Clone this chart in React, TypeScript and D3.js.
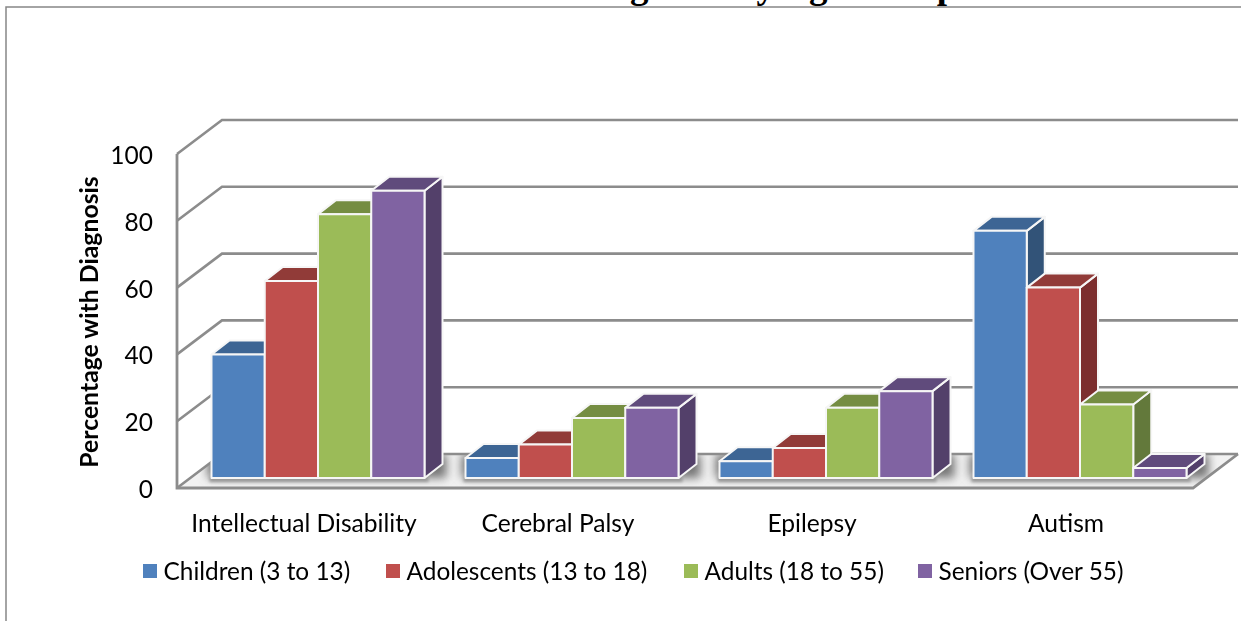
import React from 'react';
import * as d3 from 'd3';

const categories = ['Intellectual Disability', 'Cerebral Palsy', 'Epilepsy', 'Autism'];
const seriesNames = ['Children (3 to 13)', 'Adolescents (13 to 18)', 'Adults (18 to 55)', 'Seniors (Over 55)'];
const children = [37, 6, 5, 74];
const adolescents = [59, 10, 9, 57];
const adults = [79, 18, 21, 22];
const seniors = [86, 21, 26, 3];
const seriesValues = [children, adolescents, adults, seniors];
const yTicks = [0, 20, 40, 60, 80, 100];

const frontColors = ['#4F81BD', '#C0504D', '#9BBB59', '#8064A2'];
const topColors = ['#3C6594', '#913B39', '#748D42', '#604B7B'];
const sideColors = ['#325378', '#7C2F2D', '#64793A', '#523F6B'];

const GRID = '#8c8c8c';
const FONT = 'Lato, Carlito, sans-serif';

const plotLeft = 177;
const plotRight = 1193;
const wallDx = 45;
const wallDy = -34;
const barDx = 18;
const barDy = -14;
const barShiftX = 14;
const barShiftY = -10;
const groupWidth = 213;

const y = d3.scaleLinear().domain([0, 100]).range([488, 154]);
const x0 = d3.scaleBand<string>().domain(categories).range([plotLeft, plotRight]);
const x1 = d3.scaleBand<string>().domain(seriesNames).range([0, groupWidth]);
const legendX = d3.scaleOrdinal<string, number>().domain(seriesNames).range([143, 386, 684, 918]);

const poly = (pts: number[][]) => pts.map(p => p.join(',')).join(' ');

export default function App() {
  const groupPad = (x0.bandwidth() - groupWidth) / 2;
  const barBase = y(0) + barShiftY;
  return (
    <svg
      width={1241}
      height={621}
      style={{position: 'absolute', left: 0, top: 0, background: '#fff'}}
      fontFamily={FONT}
    >
      <defs>
        <filter id="soft" x="-2%" y="-2%" width="104%" height="104%">
          <feGaussianBlur stdDeviation="0.5" />
        </filter>
        <filter id="floorBlur" x="-20%" y="-100%" width="140%" height="300%">
          <feGaussianBlur stdDeviation="5" />
        </filter>
        <filter id="edgeBlur" x="-5%" y="-100%" width="110%" height="300%">
          <feGaussianBlur stdDeviation="1.4" />
        </filter>
        <clipPath id="floorClip">
          <polygon
            points={poly([
              [plotLeft, y(0)],
              [plotRight, y(0)],
              [plotRight + wallDx, y(0) + wallDy],
              [plotLeft + wallDx, y(0) + wallDy],
            ])}
          />
        </clipPath>
      </defs>

      <text
        x={766}
        y={-2}
        textAnchor="middle"
        fontFamily="'Liberation Serif', serif"
        fontWeight="bold"
        fontSize={37}
      >
        Diagnosis by Age Group
      </text>

      <g filter="url(#soft)">
        <path d="M6,621V7H1241" fill="none" stroke="#868686" strokeWidth={1.5} />

        <g clipPath="url(#floorClip)">
          <rect x={plotLeft} y={y(0) + wallDy} width={plotRight - plotLeft + wallDx} height={-wallDy} fill="#f2f2f2" />
          {categories.map(c => (
            <g key={c}>
              <rect
                x={(x0(c) as number) + groupPad + barShiftX - 4}
                y={y(0) + wallDy}
                width={groupWidth + barDx + 8}
                height={barBase - (y(0) + wallDy)}
                fill="#747474"
                filter="url(#floorBlur)"
              />
              <rect
                x={(x0(c) as number) + groupPad + barShiftX - 2}
                y={barBase - 2}
                width={groupWidth + 6}
                height={6}
                fill="#999"
                filter="url(#edgeBlur)"
              />
            </g>
          ))}
        </g>

        {yTicks.map(t => (
          <path
            key={t}
            d={`M${plotLeft},${y(t)}L${plotLeft + wallDx},${y(t) + wallDy}H${plotRight + wallDx}`}
            fill="none"
            stroke={GRID}
            strokeWidth={2.6}
          />
        ))}
        <path
          d={`M${plotLeft},${y(100)}V${y(0)}H${plotRight}L${plotRight + wallDx},${y(0) + wallDy}`}
          fill="none"
          stroke={GRID}
          strokeWidth={2.8}
        />

        {categories.map((c, ci) => (
          <g key={c}>
            {seriesNames.map((s, si) => {
              const v = seriesValues[si][ci];
              const left = (x0(c) as number) + groupPad + (x1(s) as number) + barShiftX;
              const w = x1.bandwidth();
              const top = y(v) + barShiftY;
              return (
                <g key={s} stroke="#f6f6f6" strokeWidth={2} strokeLinejoin="round">
                  <polygon
                    points={poly([
                      [left + w, top],
                      [left + w + barDx, top + barDy],
                      [left + w + barDx, barBase + barDy],
                      [left + w, barBase],
                    ])}
                    fill={sideColors[si]}
                  />
                  <polygon
                    points={poly([
                      [left, top],
                      [left + barDx, top + barDy],
                      [left + w + barDx, top + barDy],
                      [left + w, top],
                    ])}
                    fill={topColors[si]}
                  />
                  <rect x={left} y={top} width={w} height={barBase - top} fill={frontColors[si]} />
                </g>
              );
            })}
          </g>
        ))}

        {yTicks.map(t => (
          <text key={t} x={153} y={y(t) + 10} textAnchor="end" fontSize={24.5} fill="#000">
            {t}
          </text>
        ))}

        <text
          transform={`translate(98,322) rotate(-90)`}
          textAnchor="middle"
          fontSize={24.8}
          fontWeight="bold"
          fill="#000"
        >
          Percentage with Diagnosis
        </text>

        {categories.map(c => (
          <text
            key={c}
            x={(x0(c) as number) + x0.bandwidth() / 2}
            y={532}
            textAnchor="middle"
            fontSize={24.6}
            fill="#000"
          >
            {c}
          </text>
        ))}

        {seriesNames.map((s, si) => (
          <g key={s}>
            <rect x={legendX(s)} y={564} width={14} height={14} fill={frontColors[si]} />
            <text x={(legendX(s) as number) + 20.5} y={580} fontSize={24.4} fill="#000">
              {s}
            </text>
          </g>
        ))}
      </g>
    </svg>
  );
}
